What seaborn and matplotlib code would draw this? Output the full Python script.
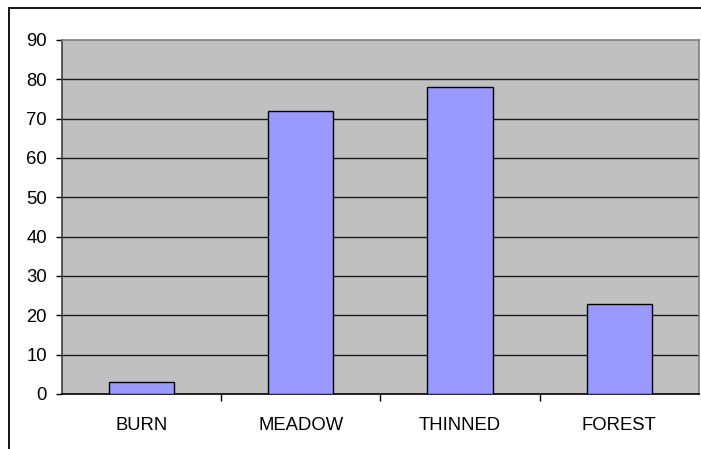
import matplotlib
matplotlib.use("Agg")
import matplotlib.pyplot as plt
from matplotlib.lines import Line2D
from matplotlib.ticker import FixedLocator
import seaborn as sns
import pandas as pd

# Site categories and their values
sites = ["BURN", "MEADOW", "THINNED", "FOREST"]
values = [3, 72, 78, 23]
y_ticks = [0, 10, 20, 30, 40, 50, 60, 70, 80, 90]

df = pd.DataFrame({"site": sites, "value": values})

sns.set_style("white")
plt.rcParams["font.family"] = ["Liberation Sans", "DejaVu Sans"]

W, H = 701, 449
fig = plt.figure(figsize=(W / 100, H / 100), dpi=100)
fig.patch.set_facecolor("white")

left, right, top, bottom = 61.7, 699.0, 40.0, 394.0
ax = fig.add_axes([left / W, 1 - bottom / H, (right - left) / W, (bottom - top) / H])
ax.set_facecolor("#C0C0C0")

sns.barplot(data=df, x="site", y="value", color="#9999FF", saturation=1,
            edgecolor="black", linewidth=1.0, width=0.41, ax=ax, zorder=3)

ax.set_xlim(-0.5, len(sites) - 0.5)
ax.set_ylim(0, 90)
ax.set_yticks(y_ticks)
ax.set_yticklabels([str(v) for v in y_ticks])
ax.set_xlabel("")
ax.set_ylabel("")

# horizontal gridlines
for v in y_ticks[1:-1]:
    ax.axhline(v, color="#1a1a1a", linewidth=1.0, zorder=1)

# frame
for side in ["top", "right"]:
    ax.spines[side].set_visible(True)
    ax.spines[side].set_color("#808080")
    ax.spines[side].set_linewidth(1.2)
ax.spines["left"].set_color("#404040")
ax.spines["left"].set_linewidth(1.2)
ax.spines["bottom"].set_color("black")
ax.spines["bottom"].set_linewidth(1.2)

# ticks
ax.tick_params(axis="y", direction="out", length=4, width=1, color="black",
               pad=6.5, labelsize=13.3, labelcolor="black", left=True)
ax.tick_params(axis="x", which="major", length=0, pad=16.5, labelsize=13.3,
               labelcolor="black", bottom=True)
ax.xaxis.set_minor_locator(FixedLocator([0.5, 1.5, 2.5]))
ax.tick_params(axis="x", which="minor", direction="out", length=5, width=1,
               color="black", bottom=True)

# outer chart border (top and left edges)
fig.add_artist(Line2D([9.3 / W, 9.3 / W], [0, 1 - 8.3 / H], transform=fig.transFigure,
                      color="black", linewidth=1.3))
fig.add_artist(Line2D([9.3 / W, 1], [1 - 8.3 / H, 1 - 8.3 / H], transform=fig.transFigure,
                      color="black", linewidth=1.3))

fig.savefig("out.png", dpi=100, facecolor="white")
